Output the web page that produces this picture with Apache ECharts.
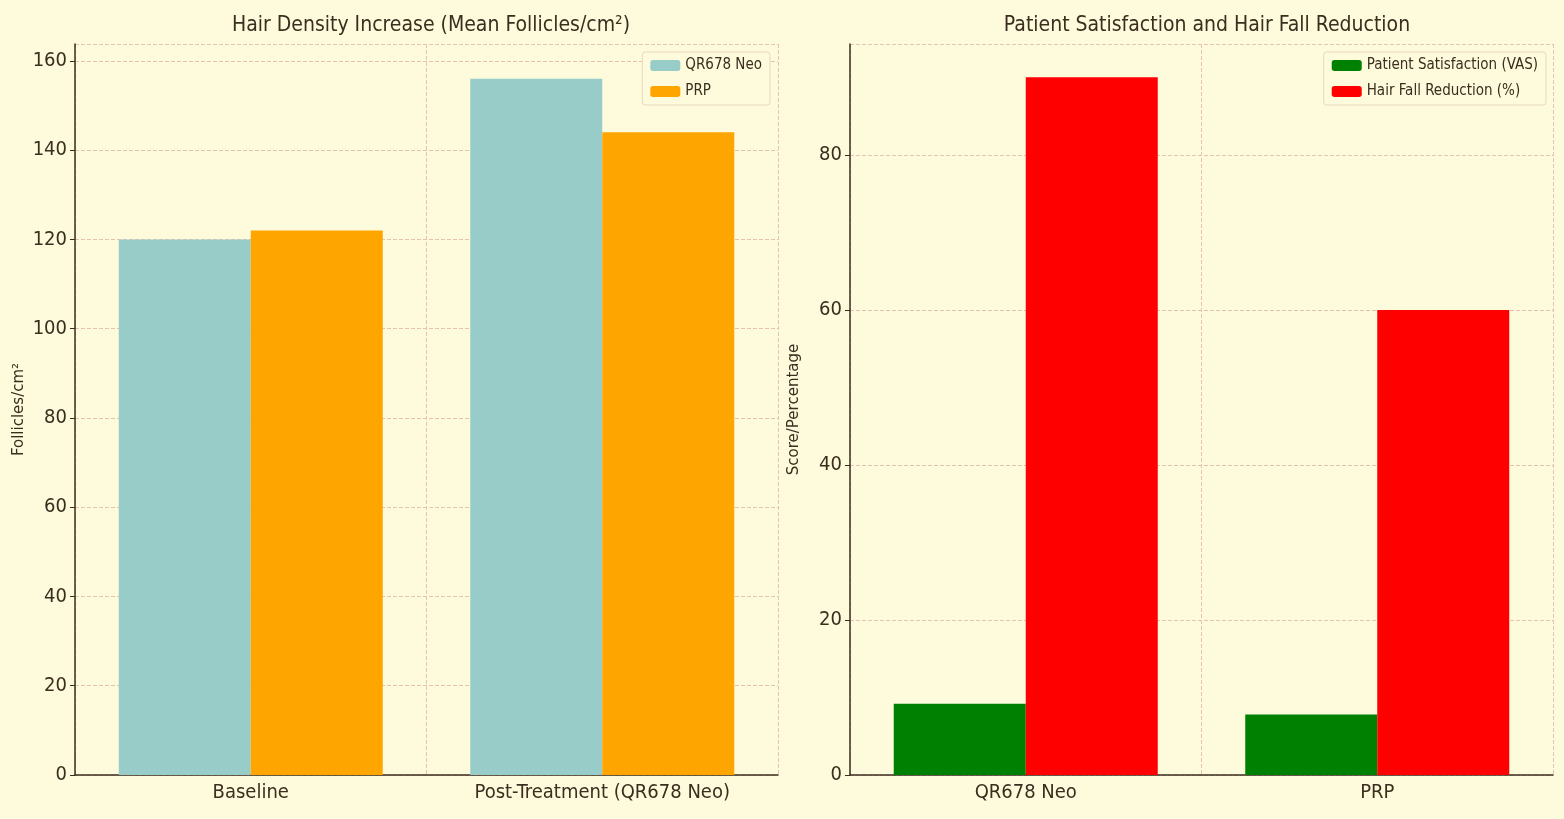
<!DOCTYPE html>
<html><head><meta charset="utf-8">
<script src="https://cdn.jsdelivr.net/npm/echarts@6/dist/echarts.min.js"></script>
<style>html,body{margin:0;padding:0;background:#fefadc}#c{width:1564px;height:819px}</style>
</head><body><div id="c"></div>
<script>
const leftCats = ['Baseline', 'Post-Treatment (QR678 Neo)'];
const qr678 = [120, 156];
const prp = [122, 144];
const rightCats = ['QR678 Neo', 'PRP'];
const satisfaction = [9.2, 7.8];
const hairFall = [90, 60];
const F = 'DejaVu Sans Condensed, DejaVu Sans, sans-serif';
const txt = '#3a2e1e';
const split = {show:true, lineStyle:{color:'#e6c3b0', type:'dashed'}};
function xa(i, cats){return {type:'category', gridIndex:i, data:cats,
  axisTick:{show:false}, axisLine:{lineStyle:{color:'#3a2e1e', width:1.5}},
  axisLabel:{color:txt, fontFamily:F, fontSize:20, margin:8},
  splitLine:split};}
function ya(i, max, name){return {type:'value', gridIndex:i, min:0, max:max, interval:20,
  name:name, nameLocation:'middle', nameGap:48, nameTextStyle:{color:txt, fontFamily:'DejaVu Sans', fontSize:15},
  axisLine:{show:true, lineStyle:{color:'#3a2e1e', width:1.5}}, axisTick:{show:true, length:5, lineStyle:{color:'#3a2e1e'}},
  axisLabel:{color:txt, fontFamily:F, fontSize:20, showMaxLabel:false}, splitLine:split};}
const leg = (i, data, right) => ({data, right, top:52, orient:'vertical', itemWidth:30, itemHeight:11, itemGap:11,
  textStyle:{color:txt, fontFamily:F, fontSize:15}, backgroundColor:'#fefadc', borderColor:'#e8d9c0', borderWidth:1, borderRadius:3, padding:[6,8]});
const chart = echarts.init(document.getElementById('c'));
chart.setOption({
  backgroundColor:'#fefadc', animation:false,
  title:[{text:'Hair Density Increase (Mean Follicles/cm²)', left:426, top:10, textAlign:'center', textStyle:{color:txt, fontFamily:F, fontSize:21, fontWeight:'normal'}},
         {text:'Patient Satisfaction and Hair Fall Reduction', left:1202, top:10, textAlign:'center', textStyle:{color:txt, fontFamily:F, fontSize:21, fontWeight:'normal'}}],
  legend:[leg(0, ['QR678 Neo','PRP'], 794), leg(1, ['Patient Satisfaction (VAS)','Hair Fall Reduction (%)'], 18)],
  grid:[{left:75, width:703, top:44, height:731}, {left:850, width:703, top:44, height:731}],
  xAxis:[xa(0, leftCats), xa(1, rightCats)],
  yAxis:[ya(0, 163.8, 'Follicles/cm²'), ya(1, 94.3, 'Score/Percentage')],
  series:[
    {name:'QR678 Neo', type:'bar', data:qr678, barWidth:132, barGap:'0%', itemStyle:{color:'#98ccc9'}},
    {name:'PRP', type:'bar', data:prp, barWidth:132, itemStyle:{color:'#ffa500'}},
    {name:'Patient Satisfaction (VAS)', type:'bar', xAxisIndex:1, yAxisIndex:1, data:satisfaction, barWidth:132, barGap:'0%', itemStyle:{color:'#008000'}},
    {name:'Hair Fall Reduction (%)', type:'bar', xAxisIndex:1, yAxisIndex:1, data:hairFall, barWidth:132, itemStyle:{color:'#ff0000'}}
  ]
});
</script></body></html>
